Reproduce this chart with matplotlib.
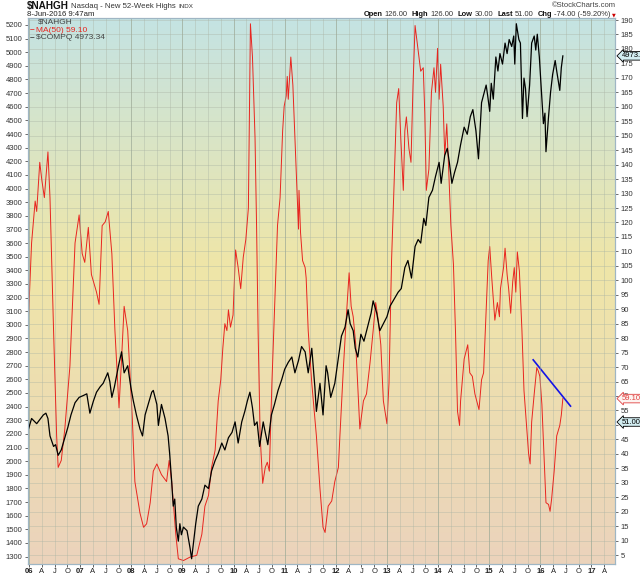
import matplotlib
matplotlib.use('Agg')
import matplotlib.pyplot as plt
import matplotlib.transforms as mtransforms
from matplotlib.colors import LinearSegmentedColormap
import numpy as np

plt.rcParams['font.family'] = ['Liberation Sans', 'DejaVu Sans']

# MA(50) of Nasdaq new 52-week highs (right axis), decimal-year dates
ma_t = [2005.99, 2006.05, 2006.12, 2006.15, 2006.21, 2006.25, 2006.30, 2006.37, 2006.41, 2006.48,
        2006.54, 2006.57, 2006.63, 2006.70, 2006.80, 2006.90, 2006.98, 2007.04, 2007.09, 2007.16,
        2007.22, 2007.32, 2007.37, 2007.43, 2007.49, 2007.55, 2007.62, 2007.68, 2007.76, 2007.81,
        2007.86, 2007.93, 2008.02, 2008.07, 2008.17, 2008.24, 2008.30, 2008.37, 2008.43, 2008.50,
        2008.59, 2008.69, 2008.74, 2008.79, 2008.87, 2008.92, 2009.02, 2009.15, 2009.28, 2009.38,
        2009.44, 2009.51, 2009.57, 2009.64, 2009.70, 2009.75, 2009.79, 2009.83, 2009.87, 2009.90,
        2009.94, 2009.99, 2010.04, 2010.09, 2010.14, 2010.19, 2010.24, 2010.29, 2010.31, 2010.33,
        2010.37, 2010.42, 2010.45, 2010.48, 2010.52, 2010.57, 2010.62, 2010.66, 2010.70, 2010.75,
        2010.81, 2010.86, 2010.91, 2010.96, 2010.99, 2011.03, 2011.05, 2011.07, 2011.12, 2011.16,
        2011.20, 2011.24, 2011.27, 2011.28, 2011.31, 2011.35, 2011.40, 2011.42, 2011.46, 2011.53,
        2011.62, 2011.69, 2011.75, 2011.79, 2011.85, 2011.92, 2011.98, 2012.05, 2012.08, 2012.15,
        2012.21, 2012.26, 2012.30, 2012.34, 2012.39, 2012.43, 2012.47, 2012.54, 2012.60, 2012.67,
        2012.73, 2012.78, 2012.83, 2012.88, 2012.93, 2013.00, 2013.04, 2013.09, 2013.14, 2013.19,
        2013.23, 2013.27, 2013.32, 2013.35, 2013.38, 2013.43, 2013.47, 2013.51, 2013.55, 2013.60,
        2013.66, 2013.71, 2013.74, 2013.77, 2013.82, 2013.87, 2013.92, 2013.95, 2013.99, 2014.02,
        2014.05, 2014.10, 2014.13, 2014.17, 2014.21, 2014.25, 2014.30, 2014.34, 2014.38, 2014.42,
        2014.44, 2014.51, 2014.58, 2014.62, 2014.67, 2014.72, 2014.80, 2014.85, 2014.89, 2014.93,
        2014.98, 2015.01, 2015.05, 2015.11, 2015.16, 2015.20, 2015.22, 2015.28, 2015.31, 2015.35,
        2015.38, 2015.42, 2015.46, 2015.49, 2015.52, 2015.55, 2015.59, 2015.64, 2015.68, 2015.72,
        2015.77, 2015.80, 2015.83, 2015.88, 2015.93, 2015.96, 2015.99, 2016.03, 2016.07, 2016.11,
        2016.16, 2016.19, 2016.22, 2016.27, 2016.32, 2016.38, 2016.41, 2016.44]
ma_v = [87.4, 112.9, 127.4, 123.8, 140.8, 134.7, 128.6, 144.4, 128.6, 82.6,
        46.2, 35.3, 37.7, 48.6, 70.4, 112.9, 122.6, 109.2, 106.2, 118.3,
        102.0, 95.9, 91.7, 118.9, 120.2, 123.8, 109.2, 82.6, 55.9, 72.8,
        91.0, 82.6, 52.2, 30.4, 19.5, 14.6, 15.8, 23.1, 34.0, 36.5,
        32.8, 30.4, 37.7, 30.4, 12.2, 3.7, 3.1, 4.3, 4.9, 12.2,
        21.9, 25.6, 35.3, 41.3, 58.3, 65.6, 76.5, 85.0, 82.6, 89.8,
        83.8, 88.0, 110.5, 104.4, 97.1, 108.0, 114.1, 125.0, 155.3, 188.7,
        177.2, 149.3, 119.0, 82.6, 46.2, 29.8, 35.3, 37.1, 34.0, 64.4,
        94.7, 119.0, 128.6, 151.7, 160.2, 163.8, 170.5, 162.6, 177.2, 167.5,
        149.3, 131.1, 117.7, 131.1, 116.5, 106.8, 104.4, 100.8, 82.6, 64.4,
        46.2, 28.0, 14.6, 12.8, 21.9, 23.7, 30.4, 35.3, 46.2, 70.4,
        88.6, 102.6, 91.0, 87.4, 77.7, 63.2, 48.6, 58.3, 60.7, 71.6,
        82.6, 92.3, 86.2, 77.7, 58.3, 50.4, 64.4, 106.8, 133.5, 161.4,
        166.3, 149.3, 131.1, 151.7, 156.5, 145.6, 140.8, 167.5, 188.1, 180.8,
        172.3, 173.5, 157.8, 131.1, 138.4, 165.0, 173.5, 165.0, 180.2, 162.6,
        174.7, 160.2, 143.2, 154.1, 137.1, 119.0, 105.6, 82.6, 54.7, 49.8,
        58.3, 72.8, 77.7, 68.0, 66.8, 60.7, 55.3, 65.6, 68.0, 85.0,
        106.8, 111.7, 100.8, 86.2, 92.3, 87.4, 97.1, 104.4, 111.1, 102.0,
        97.1, 88.6, 99.6, 104.4, 95.9, 109.8, 103.2, 82.6, 61.9, 52.2,
        40.1, 36.5, 51.0, 60.7, 69.8, 68.6, 66.8, 57.1, 40.1, 23.1,
        22.5, 20.1, 24.3, 34.0, 46.2, 49.8, 53.4, 59.1]

# Nasdaq Composite (left axis)
cq_t = [2005.99, 2006.05, 2006.15, 2006.28, 2006.33, 2006.37, 2006.41, 2006.48, 2006.52, 2006.57,
        2006.63, 2006.69, 2006.76, 2006.82, 2006.90, 2006.98, 2007.06, 2007.13, 2007.19, 2007.26,
        2007.32, 2007.39, 2007.45, 2007.54, 2007.58, 2007.62, 2007.67, 2007.75, 2007.81, 2007.86,
        2007.93, 2007.99, 2008.04, 2008.10, 2008.17, 2008.22, 2008.27, 2008.33, 2008.40, 2008.43,
        2008.50, 2008.53, 2008.59, 2008.66, 2008.72, 2008.75, 2008.79, 2008.82, 2008.85, 2008.88,
        2008.92, 2008.95, 2008.98, 2009.02, 2009.09, 2009.15, 2009.18, 2009.22, 2009.26, 2009.31,
        2009.38, 2009.44, 2009.51, 2009.57, 2009.64, 2009.70, 2009.77, 2009.83, 2009.90, 2009.97,
        2010.03, 2010.09, 2010.16, 2010.22, 2010.27, 2010.32, 2010.37, 2010.41, 2010.46, 2010.51,
        2010.58, 2010.62, 2010.67, 2010.74, 2010.80, 2010.87, 2010.94, 2011.00, 2011.07, 2011.14,
        2011.20, 2011.27, 2011.33, 2011.40, 2011.46, 2011.53, 2011.59, 2011.62, 2011.69, 2011.75,
        2011.81, 2011.84, 2011.90, 2011.98, 2012.05, 2012.11, 2012.18, 2012.24, 2012.28, 2012.34,
        2012.38, 2012.43, 2012.49, 2012.55, 2012.62, 2012.69, 2012.73, 2012.80, 2012.86, 2012.93,
        2013.00, 2013.06, 2013.14, 2013.22, 2013.28, 2013.35, 2013.41, 2013.48, 2013.55, 2013.61,
        2013.66, 2013.72, 2013.76, 2013.82, 2013.89, 2013.95, 2014.02, 2014.06, 2014.13, 2014.18,
        2014.22, 2014.27, 2014.32, 2014.38, 2014.44, 2014.51, 2014.57, 2014.63, 2014.68, 2014.74,
        2014.79, 2014.85, 2014.94, 2014.97, 2015.01, 2015.04, 2015.08, 2015.13, 2015.17, 2015.21,
        2015.26, 2015.31, 2015.35, 2015.39, 2015.44, 2015.48, 2015.50, 2015.53, 2015.58, 2015.61,
        2015.65, 2015.68, 2015.71, 2015.74, 2015.79, 2015.83, 2015.88, 2015.91, 2015.94, 2015.98,
        2016.03, 2016.06, 2016.09, 2016.11, 2016.16, 2016.20, 2016.24, 2016.29, 2016.32, 2016.38,
        2016.41, 2016.44]
cq_v = [2236, 2313, 2275, 2339, 2352, 2313, 2185, 2108, 2121, 2043,
        2082, 2159, 2249, 2339, 2429, 2468, 2481, 2494, 2352, 2442,
        2506, 2545, 2571, 2648, 2584, 2468, 2545, 2700, 2802, 2648,
        2700, 2545, 2442, 2339, 2236, 2185, 2339, 2416, 2506, 2519,
        2416, 2262, 2416, 2313, 2185, 2056, 1850, 1670, 1722, 1516,
        1413, 1541, 1460, 1516, 1490, 1361, 1284, 1413, 1541, 1670,
        1722, 1824, 1799, 1928, 2005, 2056, 2133, 2082, 2172, 2211,
        2288, 2133, 2288, 2365, 2442, 2506, 2391, 2262, 2288, 2108,
        2288, 2211, 2121, 2339, 2416, 2519, 2596, 2674, 2725, 2764,
        2648, 2738, 2841, 2802, 2648, 2828, 2545, 2365, 2571, 2339,
        2700, 2648, 2468, 2571, 2760, 2918, 2983, 3111, 3009, 2957,
        2828, 2764, 2931, 2880, 2983, 3086, 3176, 3086, 2957, 3009,
        3060, 3137, 3189, 3240, 3266, 3420, 3472, 3343, 3575, 3626,
        3600, 3781, 3729, 3935, 3987, 4089, 4192, 4038, 4244, 4295,
        4192, 4038, 4115, 4192, 4321, 4450, 4398, 4527, 4579, 4424,
        4218, 4630, 4759, 4681, 4566, 4772, 4656, 4965, 4862, 4990,
        4913, 5067, 4990, 5093, 5042, 5119, 4913, 5209, 5093, 5067,
        4514, 4810, 4733, 4527, 4759, 5067, 5119, 5016, 5132, 4965,
        4656, 4476, 4553, 4270, 4527, 4707, 4836, 4939, 4862, 4720,
        4887, 4973]

# hand-drawn trend line on the MA
trend_t = [2015.86, 2016.59]
trend_v = [72.5, 56.5]

last_ma = 59.10
last_compq = 4973.34
last_nahgh = 51.00

years = list(range(2006, 2018))
q_labels = ['A', 'J', 'O']

W, H = 640, 576
fig = plt.figure(figsize=(6.4, 5.76), dpi=100)
rect = [28 / W, 12 / H, 587 / W, 546 / H]
renderer = fig.canvas.get_renderer()

# gradient background
bg = fig.add_axes(rect, zorder=0)
cmap = LinearSegmentedColormap.from_list(
    'sc', [(0, '#c4e3e3'), (0.45, '#efe6a8'), (1, '#ebd3bc')])
bg.imshow(np.linspace(0, 1, 256).reshape(-1, 1), aspect='auto', cmap=cmap,
          extent=[0, 1, 0, 1])
bg.set_axis_off()

axr = fig.add_axes(rect, zorder=1)
axr.patch.set_visible(False)
axl = fig.add_axes(rect, zorder=2, sharex=axr)
axl.patch.set_visible(False)

axr.plot(ma_t, ma_v, color='#e8251f', lw=0.7)
axr.plot(trend_t, trend_v, color='#1414e6', lw=1.2)
axl.plot(cq_t, cq_v, color='black', lw=0.9)

axr.set_xlim(2005.98, 2017.46)
axr.set_ylim(1.9, 190.7)
axl.set_ylim(1245.5, 5251)

# x ticks: year + quarters
xt, xl = [], []
for y in years:
    xt.append(y)
    xl.append('%02d' % (y % 100))
    for i, q in enumerate(q_labels):
        if y + 0.25 * (i + 1) < 2017.46:
            xt.append(y + 0.25 * (i + 1))
            xl.append(q)
axr.set_xticks(xt)
axr.set_xticklabels(xl)
for lab in axr.get_xticklabels():
    if lab.get_text()[0].isdigit():
        lab.set_fontweight('bold')

axr.yaxis.tick_right()
axr.set_yticks(range(5, 191, 5))
axl.set_yticks(range(1300, 5201, 100))
axr.tick_params(axis='y', labelsize=5.5, length=2, width=0.5, colors='#333333', pad=2)
axr.tick_params(axis='x', labelsize=5.5, length=2, width=0.5, colors='#222222', pad=1)
axl.tick_params(axis='y', labelsize=5.5, length=2, width=0.5, colors='#333333', pad=2)
axl.tick_params(axis='x', length=0, labelbottom=False)

axr.grid(True, color='#aab4a4', lw=0.5, alpha=0.55)
for y in years:
    axr.axvline(y, color='#98a692', lw=0.6, alpha=0.6)

for ax in (axr, axl):
    for s in ax.spines.values():
        s.set_color('#9fb6c4')
        s.set_linewidth(0.8)

# value tags on the right edge
trr = mtransforms.blended_transform_factory(axr.transAxes, axr.transData)
trl = mtransforms.blended_transform_factory(axl.transAxes, axl.transData)
tag = dict(fontsize=5.5, va='center', ha='left', clip_on=False, zorder=10)
axl.text(1.011, last_compq, '%.2f' % last_compq, transform=trl, color='black',
         bbox=dict(boxstyle='larrow,pad=0.1', fc='#d3eef2', ec='black', lw=0.6), **tag)
axr.text(1.011, last_ma, '%.2f' % last_ma, transform=trr, color='#e04040',
         bbox=dict(boxstyle='larrow,pad=0.1', fc='#fdf3f0', ec='#e04040', lw=0.6), **tag)
axr.text(1.011, last_nahgh, '%.2f' % last_nahgh, transform=trr, color='black',
         bbox=dict(boxstyle='larrow,pad=0.1', fc='#d3eef2', ec='black', lw=0.6), **tag)

# legend inside plot
lg = dict(transform=axl.transAxes, fontsize=6, va='center')
axl.text(0.017, 0.992, '$NAHGH', color='#444444', **lg)
axl.text(0.003, 0.978, '\u2013', color='#e8251f', fontweight='bold', **lg)
axl.text(0.014, 0.978, 'MA(50) %.2f' % last_ma, color='#e8251f', **lg)
axl.text(0.003, 0.964, '\u2013', color='#333333', fontweight='bold', **lg)
axl.text(0.014, 0.964, '$COMPQ %.2f' % last_compq, color='#444444', **lg)


# header: pieces laid out one after another
def run(xp, yp, pieces, right=False):
    if right:
        total = 0
        for s, kw, gap in pieces:
            t = fig.text(0, 0, s, **kw)
            total += t.get_window_extent(renderer).width + gap
            t.remove()
        xp -= total
    for s, kw, gap in pieces:
        t = fig.text(xp / W, 1 - yp / H, s, va='center', ha='left', **kw)
        xp += t.get_window_extent(renderer).width + gap


run(27, 6.5, [('$NAHGH', dict(fontsize=7.2, fontweight='bold', color='#111111'), 2),
              ('Nasdaq - New 52-Week Highs', dict(fontsize=5.6, color='#333333'), 3),
              ('INDX', dict(fontsize=4.5, color='#333333'), 0)])
fig.text(27 / W, 1 - 14.5 / H, '8-Jun-2016 9:47am', fontsize=5.6, color='#222222', va='center')
fig.text(616 / W, 1 - 5.5 / H, '\u00a9StockCharts.com', fontsize=5.5, color='#444444',
         ha='right', va='center')

bold = dict(fontsize=5.4, fontweight='bold', color='#111111')
norm = dict(fontsize=5.4, color='#333333')
run(616, 14.5, [('Open', bold, 2), ('126.00', norm, 4), ('High', bold, 2), ('126.00', norm, 4),
                ('Low', bold, 2), ('30.00', norm, 4), ('Last', bold, 2), ('51.00', norm, 4),
                ('Chg', bold, 2), ('-74.00 (-59.20%)', norm, 2),
                ('\u25bc', dict(fontsize=3.5, color='#cc0000', family=['DejaVu Sans']), 0)],
    right=True)

fig.savefig('out.png', dpi=100, facecolor='white')
